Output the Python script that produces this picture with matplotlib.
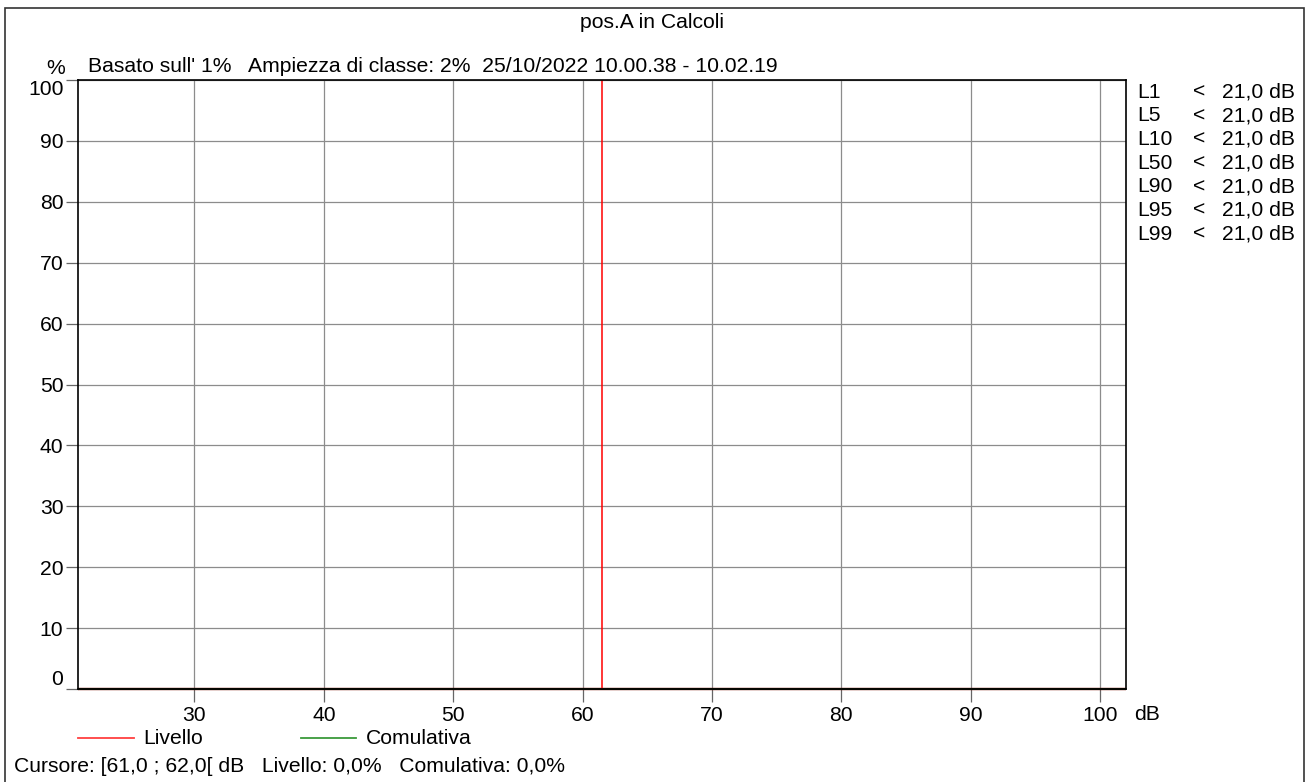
import matplotlib
matplotlib.use('Agg')
import matplotlib.pyplot as plt
from matplotlib.patches import Rectangle

plt.rcParams['font.family'] = ['Liberation Sans', 'DejaVu Sans']
FS = 15.2

# level classes (dB) and distribution values (%)
levels = [21.0, 102.0]
livello = [0.0, 0.0]
comulativa = [0.0, 0.0]
cursor_db = 61.5

x_ticks = [30, 40, 50, 60, 70, 80, 90, 100]
y_ticks = [0, 10, 20, 30, 40, 50, 60, 70, 80, 90, 100]

stat_names = ['L1', 'L5', 'L10', 'L50', 'L90', 'L95', 'L99']
stat_values = ['21,0 dB'] * 7

title = 'pos.A in Calcoli'
header = "Basato sull' 1%   Ampiezza di classe: 2%  25/10/2022 10.00.38 - 10.02.19"
footer = 'Cursore: [61,0 ; 62,0[ dB   Livello: 0,0%   Comulativa: 0,0%'

W, H = 1308, 782
fig = plt.figure(figsize=(W / 100, H / 100), dpi=100)

# outer frame
fig.add_artist(Rectangle((4.5 / W, -0.01), (1304 - 4.5) / W, (H - 7.5) / H + 0.01,
                         transform=fig.transFigure, fill=False, edgecolor='#333333', lw=1.2))

left, right, top, bottom = 78, 1126, 80, 689
ax = fig.add_axes([left / W, 1 - bottom / H, (right - left) / W, (bottom - top) / H])

ax.set_xlim(21, 102)
ax.set_ylim(0, 100)
ax.set_xticks(x_ticks)
ax.set_yticks(y_ticks)
ax.grid(True, color='#8c8c8c', lw=0.9)
ax.tick_params(axis='both', direction='out', length=9, width=0.9, color='#666666',
               labelsize=FS)
ax.tick_params(axis='y', pad=1.5)
ax.tick_params(axis='x', pad=3)
for s in ax.spines.values():
    s.set_color('black')
    s.set_linewidth(1.2)

# keep the end labels inside the axis height
ylabels = ax.get_yticklabels()
ylabels[0].set_verticalalignment('bottom')
ylabels[-1].set_verticalalignment('top')

ax.plot(levels, livello, color='#e60000', lw=1.6, solid_capstyle='butt', clip_on=False)
ax.plot(levels, comulativa, color='#2a2a10', lw=1.6, solid_capstyle='butt', clip_on=False)
ax.axvline(cursor_db, color='red', lw=1.1)

fig.text(652 / W, 1 - 22 / H, title, ha='center', va='center', fontsize=FS)
fig.text(65 / W, 1 - 68 / H, '%', ha='right', va='center', fontsize=FS)
fig.text(88 / W, 1 - 67 / H, header, ha='left', va='center', fontsize=FS)
fig.text(1134 / W, 1 - 714 / H, 'dB', ha='left', va='center', fontsize=FS)

for i, (n, v) in enumerate(zip(stat_names, stat_values)):
    y = 1 - (92 + i * 23.7) / H
    fig.text(1137 / W, y, n, ha='left', va='center', fontsize=FS)
    fig.text(1193 / W, y, '<', ha='left', va='center', fontsize=FS)
    fig.text(1295 / W, y, v, ha='right', va='center', fontsize=FS)

# legend row
ly = 1 - 738 / H
fig.add_artist(plt.Line2D([78 / W, 134 / W], [ly, ly], color='#ff4040', lw=1.3))
fig.text(143 / W, ly, 'Livello', ha='left', va='center', fontsize=FS)
fig.add_artist(plt.Line2D([301 / W, 356 / W], [ly, ly], color='#3a9a3a', lw=1.3))
fig.text(366 / W, ly, 'Comulativa', ha='left', va='center', fontsize=FS)

fig.text(14 / W, 1 - 767 / H, footer, ha='left', va='center', fontsize=FS)

fig.savefig('out.png', dpi=100)
